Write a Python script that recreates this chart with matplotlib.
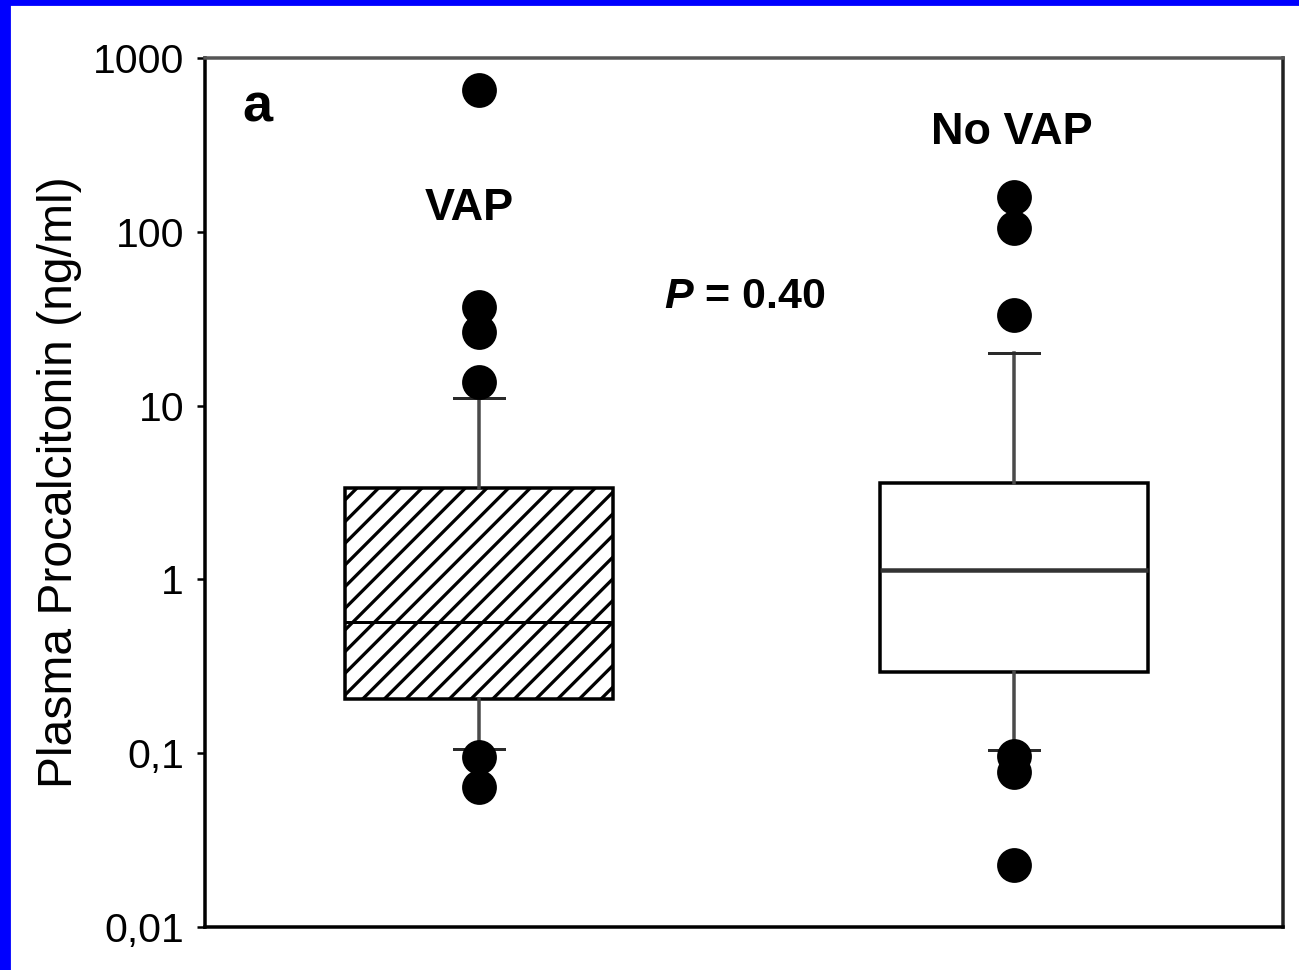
import matplotlib
matplotlib.use('Agg')
import matplotlib.pyplot as plt
from matplotlib.patches import Rectangle

DPI = 130
W, H = 1299, 970

plt.rcParams['font.family'] = ['Liberation Sans', 'DejaVu Sans']
plt.rcParams['mathtext.fontset'] = 'custom'
plt.rcParams['mathtext.rm'] = 'Liberation Sans'
plt.rcParams['mathtext.bf'] = 'Liberation Sans:bold'
plt.rcParams['mathtext.it'] = 'Liberation Sans:italic'
plt.rcParams['mathtext.bfit'] = 'Liberation Sans:italic:bold'
plt.rcParams['hatch.linewidth'] = 1.8

# ── data ──────────────────────────────────────────────────
groups = ['VAP', 'No VAP']
q1 = [0.206, 0.292]
median = [0.566, 1.14]
q3 = [3.34, 3.61]
whisker_low = [0.106, 0.105]
whisker_high = [11.1, 20.0]
outliers_vap = [651, 36.7, 26.4, 13.6, 0.095, 0.064]
outliers_novap = [158, 105, 33.0, 0.096, 0.078, 0.0226]
ytick_values = [0.01, 0.1, 1, 10, 100, 1000]
ytick_labels = ['0,01', '0,1', '1', '10', '100', '1000']
y_label = 'Plasma Procalcitonin (ng/ml)'
panel_label = 'a'
p_text = r'$\mathbfit{P}$ = 0.40'


def pt(px):
    # pixel -> points at the chosen dpi
    return px * 72 / DPI


fig = plt.figure(figsize=(W / DPI, H / DPI), dpi=DPI)
fig.patch.set_facecolor('white')

# blue frame on the left and top edge
fig.patches.append(Rectangle((0, 0), 10 / W, 1, transform=fig.transFigure,
                             color='#0000ff', zorder=10))
fig.patches.append(Rectangle((0, 1 - 5 / H), 1, 5 / H, transform=fig.transFigure,
                             color='#0000ff', zorder=10))

left, right, top, bottom = 205, 1283, 58, 927
ax = fig.add_axes([left / W, 1 - bottom / H, (right - left) / W, (bottom - top) / H])

stats = []
for i, name in enumerate(groups):
    stats.append({
        'label': name,
        'q1': q1[i], 'med': median[i], 'q3': q3[i],
        'whislo': whisker_low[i], 'whishi': whisker_high[i],
        'fliers': [outliers_vap, outliers_novap][i],
    })

bp = ax.bxp(stats, positions=[1, 2], widths=0.5, patch_artist=True,
            capwidths=0.095,
            boxprops=dict(facecolor='white', edgecolor='black', linewidth=pt(3.5)),
            whiskerprops=dict(color='#4a4a4a', linewidth=pt(3.5)),
            capprops=dict(color='#2a2a2a', linewidth=pt(3)),
            medianprops=dict(color='black', linewidth=pt(3)),
            flierprops=dict(marker='o', markerfacecolor='black', markeredgecolor='black',
                            markersize=pt(33), linestyle='none'))
bp['boxes'][0].set_hatch('//')
bp['medians'][1].set_color('#333333')
bp['medians'][1].set_linewidth(pt(4.5))
for line in bp['fliers']:
    line.set_zorder(5)

ax.set_yscale('log')
ax.set_ylim(0.01, 1000)
x_per_unit = 1014 - 479
ax.set_xlim(1 - (479 - left) / x_per_unit, 2 + (right - 1014) / x_per_unit)

ax.set_yticks(ytick_values)
ax.set_yticklabels(ytick_labels)
ax.yaxis.set_minor_locator(matplotlib.ticker.NullLocator())
ax.set_xticks([])
ax.tick_params(axis='y', direction='out', length=pt(8), width=pt(2.5),
               pad=pt(13), labelsize=pt(41), colors='black')

for side, color in [('left', 'black'), ('bottom', 'black'),
                    ('top', '#555555'), ('right', '#222222')]:
    ax.spines[side].set_color(color)
    ax.spines[side].set_linewidth(pt(3.5))

fig.text(60 / W, 1 - 482 / H, y_label, rotation=90, ha='center', va='center',
         fontsize=pt(48))

ax.text(0.049, 0.9425, panel_label, transform=ax.transAxes, ha='center', va='center',
        fontsize=pt(54), fontweight='bold')
ax.text(0.245, 0.827, groups[0], transform=ax.transAxes, ha='center', va='center',
        fontsize=pt(45), fontweight='bold')
ax.text(0.748, 0.9137, groups[1], transform=ax.transAxes, ha='center', va='center',
        fontsize=pt(45), fontweight='bold')
ax.text(0.501, 0.725, p_text, transform=ax.transAxes, ha='center', va='center',
        fontsize=pt(43), fontweight='bold')

plt.savefig('out.png', dpi=DPI)
plt.close()
